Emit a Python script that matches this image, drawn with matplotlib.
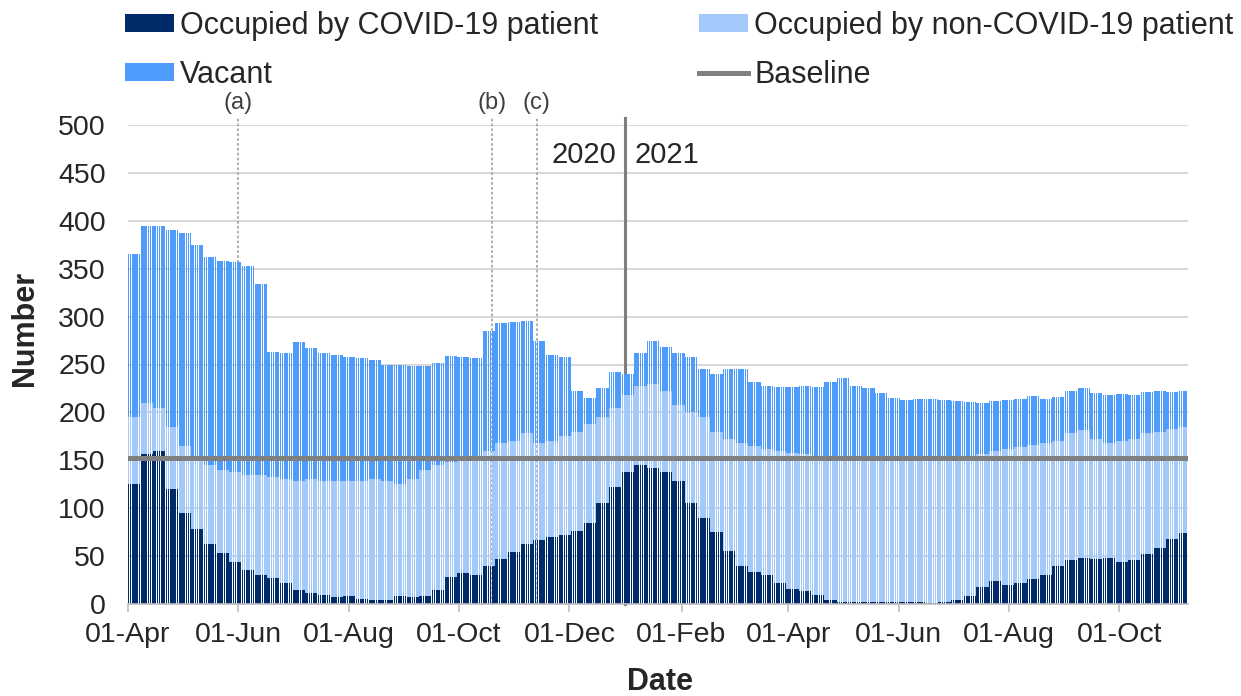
import numpy as np
import pandas as pd
import matplotlib
matplotlib.use("Agg")
import matplotlib.pyplot as plt
from matplotlib.patches import Patch
from matplotlib.lines import Line2D

plt.rcParams['font.family'] = ['Liberation Sans', 'DejaVu Sans']

# ---- data (weekly readings, each applied to the 7 daily bars of that week) ----
start_date = "2020-04-01"
n_days = 586

covid_weekly = [125, 157, 160, 120, 95, 78, 63, 53, 44, 36,
                30, 27, 22, 15, 12, 9, 7, 8, 5, 4,
                4, 8, 7, 8, 15, 28, 32, 30, 40, 47,
                54, 63, 67, 70, 72, 76, 85, 105, 122, 138,
                145, 142, 138, 128, 105, 90, 75, 55, 40, 33,
                30, 22, 16, 14, 9, 4, 2, 2, 2, 2,
                2, 2, 2, 1, 2, 4, 8, 18, 24, 20,
                22, 26, 30, 40, 46, 48, 47, 48, 44, 46,
                52, 58, 68, 74]
noncovid_weekly = [70, 53, 45, 65, 70, 72, 82, 87, 94, 99,
                   105, 106, 108, 113, 118, 119, 121, 120, 123, 126,
                   124, 117, 123, 132, 130, 120, 120, 125, 120, 121,
                   116, 115, 101, 100, 103, 104, 103, 90, 83, 80,
                   83, 88, 84, 80, 95, 105, 105, 117, 128, 132,
                   132, 138, 142, 143, 146, 149, 153, 150, 150, 151,
                   150, 148, 150, 151, 151, 149, 147, 139, 136, 142,
                   142, 140, 138, 130, 132, 134, 125, 120, 126, 126,
                   126, 122, 115, 111]
vacant_weekly = [170, 185, 190, 205, 222, 225, 217, 218, 219, 218,
                 199, 130, 132, 146, 137, 134, 132, 130, 129, 125,
                 122, 124, 118, 108, 107, 111, 106, 102, 125, 125,
                 124, 117, 107, 90, 83, 42, 27, 30, 37, 22,
                 34, 45, 46, 54, 58, 50, 60, 73, 77, 67,
                 66, 66, 68, 71, 72, 79, 81, 76, 73, 67,
                 63, 63, 62, 62, 60, 59, 56, 53, 52, 51,
                 50, 51, 46, 46, 44, 43, 48, 50, 49, 46,
                 43, 42, 38, 37]
baseline_value = 152

tick_dates = ["2020-04-01", "2020-06-01", "2020-08-01", "2020-10-01", "2020-12-01",
              "2021-02-01", "2021-04-01", "2021-06-01", "2021-08-01", "2021-10-01"]
tick_labels = ["01-Apr", "01-Jun", "01-Aug", "01-Oct", "01-Dec",
               "01-Feb", "01-Apr", "01-Jun", "01-Aug", "01-Oct"]
event_dates = ["2020-06-01", "2020-10-19", "2020-11-13"]
event_labels = ["(a)", "(b)", "(c)"]
year_split = "2021-01-01"

# ---- expand to daily bars ----
dates = pd.date_range(start_date, periods=n_days, freq="D")
covid = np.repeat(covid_weekly, 7)[:n_days]
noncovid = np.repeat(noncovid_weekly, 7)[:n_days]
vacant = np.repeat(vacant_weekly, 7)[:n_days]

c_covid = "#002B6B"
c_non = "#A3C8FA"
c_vac = "#4D9BFA"
c_base = "#808080"
c_text = "#262626"

fig = plt.figure(figsize=(12.41, 6.96), dpi=100)
ax = fig.add_axes([128/1241, 1-604/696, (1188-128)/1241, (604-125)/696])

w = 0.72
ax.bar(dates, covid, width=w, align="edge", color=c_covid, linewidth=0, zorder=2)
ax.bar(dates, noncovid, width=w, align="edge", bottom=covid, color=c_non, linewidth=0, zorder=2)
ax.bar(dates, vacant, width=w, align="edge", bottom=covid + noncovid, color=c_vac, linewidth=0, zorder=2)

ax.axhline(baseline_value, color=c_base, lw=3.6, zorder=4)

# event lines (dotted, behind bars)
for d, lab in zip(event_dates, event_labels):
    xd = pd.Timestamp(d)
    ax.plot([xd, xd], [0, 507], color="#a8a8a8", lw=1.3, ls=(0, (1.5, 1.2)), zorder=1, clip_on=False)
    ax.text(xd, 511, lab, ha="center", va="bottom", fontsize=17, color="#404040")

ys = pd.Timestamp(year_split)
ax.plot([ys, ys], [0, 507], color="#7f7f7f", lw=2.2, zorder=1, clip_on=False)
ax.text(ys - pd.Timedelta(days=5), 469, "2020", ha="right", va="center", fontsize=21, color=c_text)
ax.text(ys + pd.Timedelta(days=5), 469, "2021", ha="left", va="center", fontsize=21, color=c_text)

ax.set_ylim(0, 500)
ax.set_xlim(pd.Timestamp(start_date), pd.Timestamp(start_date) + pd.Timedelta(days=n_days))
ax.set_yticks(np.arange(0, 501, 50))
ax.set_xticks([pd.Timestamp(d) for d in tick_dates])
ax.set_xticklabels(tick_labels)

ax.yaxis.grid(True, color="#d9d9d9", lw=1.5, zorder=0)
ax.set_axisbelow(True)
for s in ["left", "top", "right"]:
    ax.spines[s].set_visible(False)
ax.spines["bottom"].set_color("#bfbfbf")
ax.spines["bottom"].set_linewidth(1.2)

ax.tick_params(axis="y", length=0, pad=16, labelsize=20.5, labelcolor=c_text)
ax.tick_params(axis="x", length=6, width=1.2, color="#bfbfbf", pad=7, labelsize=20.5, labelcolor=c_text)

fig.text(25/1241, 1-328/696, "Number", rotation=90, ha="center", va="center",
         fontsize=22, fontweight="bold", color=c_text)
fig.text(660/1241, 1-682/696, "Date", ha="center", va="center",
         fontsize=22, fontweight="bold", color=c_text)

handles = [Patch(facecolor=c_covid, edgecolor="none"),
           Patch(facecolor=c_vac, edgecolor="none"),
           Patch(facecolor=c_non, edgecolor="none"),
           Line2D([0], [0], color=c_base, lw=3.6)]
labels = ["Occupied by COVID-19 patient", "Vacant",
          "Occupied by non-COVID-19 patient", "Baseline"]
fig.legend(handles, labels, ncol=2, loc="upper left",
           bbox_to_anchor=(122/1241, 1 - 8/696), frameon=False, fontsize=22,
           handlelength=1.6, handleheight=0.55, handletextpad=0.2,
           labelspacing=0.62, columnspacing=3.3, borderaxespad=0.0, borderpad=0.1,
           labelcolor=c_text)

fig.savefig("out.png", dpi=100)
